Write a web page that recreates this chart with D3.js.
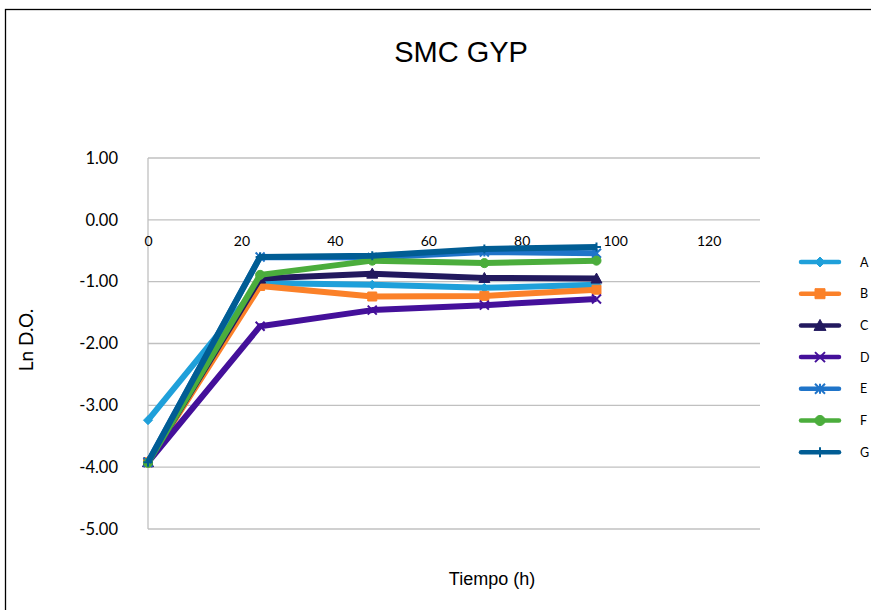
<!DOCTYPE html>
<html>
<head>
<meta charset="utf-8">
<script src="https://cdnjs.cloudflare.com/ajax/libs/d3/7.8.5/d3.min.js"></script>
<style>
  body { margin: 0; background: #fff; }
  svg { display: block; }
</style>
</head>
<body>
<svg width="871" height="610"></svg>
<script>
// Chart data
const hours = [0, 24, 48, 72, 96];
const seriesNames = ["A", "B", "C", "D", "E", "F", "G"];
const valuesA = [-3.24, -1.02, -1.05, -1.10, -1.05];
const valuesB = [-3.92, -1.07, -1.24, -1.23, -1.13];
const valuesC = [-3.92, -0.95, -0.87, -0.94, -0.95];
const valuesD = [-3.92, -1.72, -1.46, -1.38, -1.28];
const valuesE = [-3.92, -0.60, -0.61, -0.52, -0.54];
const valuesF = [-3.93, -0.89, -0.66, -0.70, -0.66];
const valuesG = [-3.92, -0.60, -0.58, -0.47, -0.44];
const yTicks = [1, 0, -1, -2, -3, -4, -5];
const xTicks = [0, 20, 40, 60, 80, 100, 120];

const colors = ["#1fa0da", "#fb8129", "#22195e", "#44109a", "#1f74c9", "#4bad3c", "#015d94"];
const symbols = ["diamond", "square", "triangle", "x", "asterisk", "circle", "plus"];
const allValues = [valuesA, valuesB, valuesC, valuesD, valuesE, valuesF, valuesG];

const svg = d3.select("svg");

// Chart frame
svg.append("rect")
  .attr("x", 5.5).attr("y", 9.5)
  .attr("width", 900).attr("height", 700)
  .attr("fill", "none").attr("stroke", "#000").attr("stroke-width", 1.3);

// Scales
const x = d3.scaleLinear().domain([0, 131]).range([148, 760]);
const y = d3.scaleLinear().domain([-5, 1]).range([529, 158]);

// Gridlines
svg.append("g")
  .selectAll("line")
  .data(yTicks)
  .enter()
  .append("line")
  .attr("x1", 148).attr("x2", 760)
  .attr("y1", d => y(d)).attr("y2", d => y(d))
  .attr("stroke", "#c0c0c0").attr("stroke-width", 1.3);

svg.append("line")
  .attr("x1", 148).attr("x2", 148)
  .attr("y1", y(1)).attr("y2", y(-5))
  .attr("stroke", "#c0c0c0").attr("stroke-width", 1.3);

// Y axis labels
const yAxis = d3.axisLeft(y).tickValues(yTicks).tickFormat(d3.format(".2f")).tickSize(0).tickPadding(30);
const yg = svg.append("g").attr("transform", "translate(148,0)").call(yAxis);
yg.select(".domain").remove();
yg.selectAll("text")
  .attr("font-family", "Lato, 'Open Sans', sans-serif")
  .attr("font-size", 16.5)
  .attr("fill", "#000")
  .text(d => d.toFixed(2).replace(/^-?0\.00$/, "0.00"));

// X axis labels (axis crosses at y = 0)
const xAxis = d3.axisBottom(x).tickValues(xTicks).tickSize(0).tickPadding(16);
const xg = svg.append("g").attr("transform", `translate(0,${y(0)})`).call(xAxis);
xg.select(".domain").remove();
xg.selectAll("text")
  .attr("font-family", "Lato, 'Open Sans', sans-serif")
  .attr("font-size", 14)
  .attr("fill", "#000");

// Lines
const line = d3.line()
  .x((d, i) => x(hours[i]))
  .y(d => y(d));

function markerPath(sym, size) {
  const s = size / 2;
  switch (sym) {
    case "diamond": return `M0,${-s}L${s},0L0,${s}L${-s},0Z`;
    case "square": return `M${-s},${-s}H${s}V${s}H${-s}Z`;
    case "triangle": return `M0,${-s - 1}L${s + 1},${s}L${-s - 1},${s}Z`;
    case "circle": return d3.symbol(d3.symbolCircle, size * size * 0.8)();
    case "x": return `M${-s},${-s}L${s},${s}M${-s},${s}L${s},${-s}`;
    case "asterisk": return `M${-s},${-s}L${s},${s}M${-s},${s}L${s},${-s}M0,${-s}V${s}`;
    case "plus": return `M0,${-s}V${s}M${-s},0H${s}`;
  }
}
const filled = sym => ["diamond", "square", "triangle", "circle"].includes(sym);

allValues.forEach((vals, k) => {
  const g = svg.append("g");
  g.append("path")
    .datum(vals)
    .attr("d", line)
    .attr("fill", "none")
    .attr("stroke", colors[k])
    .attr("stroke-width", 6)
    .attr("stroke-linejoin", "round");

  g.selectAll("path.marker")
    .data(vals)
    .enter()
    .append("path")
    .attr("class", "marker")
    .attr("transform", (d, i) => `translate(${x(hours[i])},${y(d)})`)
    .attr("d", markerPath(symbols[k], 9))
    .attr("fill", filled(symbols[k]) ? colors[k] : "none")
    .attr("stroke", colors[k])
    .attr("stroke-width", filled(symbols[k]) ? 1 : 2);
});

// Legend
const legend = svg.append("g")
  .selectAll("g")
  .data(seriesNames)
  .enter()
  .append("g")
  .attr("transform", (d, i) => `translate(0,${262 + i * 31.7})`);

legend.append("line")
  .attr("x1", 801).attr("x2", 839)
  .attr("stroke", (d, i) => colors[i])
  .attr("stroke-width", 4.5)
  .attr("stroke-linecap", "round");

legend.append("path")
  .attr("transform", "translate(820,0)")
  .attr("d", (d, i) => markerPath(symbols[i], 10))
  .attr("fill", (d, i) => filled(symbols[i]) ? colors[i] : "none")
  .attr("stroke", (d, i) => colors[i])
  .attr("stroke-width", (d, i) => filled(symbols[i]) ? 1 : 2);

legend.append("text")
  .attr("x", 860).attr("y", 4.5)
  .attr("font-family", "Lato, 'Open Sans', sans-serif")
  .attr("font-size", 12.5)
  .text(d => d);

// Titles
svg.append("text")
  .attr("x", 461).attr("y", 62)
  .attr("text-anchor", "middle")
  .attr("font-family", "'Liberation Sans', Arial, sans-serif")
  .attr("font-size", 29)
  .text("SMC GYP");

svg.append("text")
  .attr("x", 492).attr("y", 585)
  .attr("text-anchor", "middle")
  .attr("font-family", "'Liberation Sans', Arial, sans-serif")
  .attr("font-size", 18)
  .text("Tiempo (h)");

svg.append("text")
  .attr("transform", "translate(33,340) rotate(-90)")
  .attr("text-anchor", "middle")
  .attr("font-family", "Lato, 'Open Sans', sans-serif")
  .attr("font-size", 19)
  .text("Ln D.O.");
</script>
</body>
</html>
